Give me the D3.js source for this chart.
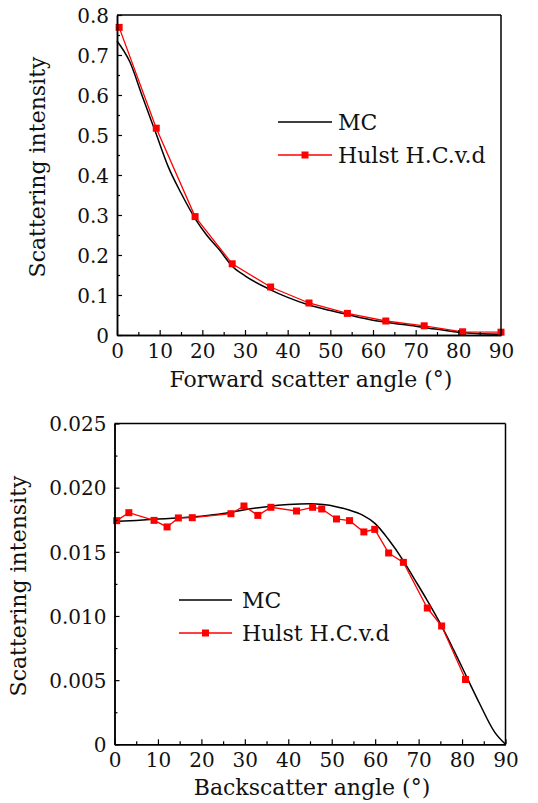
<!DOCTYPE html>
<html>
<head>
<meta charset="utf-8">
<script src="https://cdn.jsdelivr.net/npm/d3@7"></script>
<style>
  html, body { margin: 0; padding: 0; background: #fff; }
  svg { display: block; }
  text { font-family: "DejaVu Serif", serif; fill: #111; }
</style>
</head>
<body>
<svg id="chart" width="538" height="803"></svg>
<script>
// ---------------- DATA ----------------
// Top panel: forward scattering
const fwdMcAngle  = [0, 3, 6, 9, 12, 15, 18.5, 21, 24, 27, 30, 36, 40, 45, 50, 54, 60, 63, 70, 72, 80, 81, 85, 90];
const fwdMcValue  = [0.735, 0.683, 0.595, 0.508, 0.421, 0.355, 0.288, 0.25, 0.213, 0.172, 0.148, 0.113, 0.094, 0.075, 0.061, 0.051, 0.037, 0.032, 0.022, 0.019, 0.007, 0.006, 0.003, 0.002];
const fwdHulstAngle = [0.5, 9.2, 18.3, 27, 36, 45, 54, 63, 72, 81, 90];
const fwdHulstValue = [0.769, 0.517, 0.296, 0.178, 0.120, 0.080, 0.054, 0.035, 0.023, 0.008, 0.007];

// Bottom panel: backscattering
const backMcAngle = [0, 5, 10, 15, 20, 25, 30, 35, 40, 45, 48, 51, 54, 57, 60, 63, 66.5, 69, 72, 75, 78, 81, 84, 87.5, 90];
const backMcValue = [0.01738, 0.01745, 0.01755, 0.01765, 0.01778, 0.01798, 0.01828, 0.01852, 0.01868, 0.01874, 0.01868, 0.01852, 0.01826, 0.01788, 0.01720, 0.01600, 0.01430, 0.01290, 0.01120, 0.00940, 0.00740, 0.00530, 0.00320, 0.00095, 0.00000];
const backHulstAngle = [0.5, 3.3, 9.1, 12.1, 14.7, 17.9, 26.8, 29.8, 33.0, 36.0, 41.9, 45.6, 47.7, 51.1, 54.1, 57.4, 59.9, 63.1, 66.5, 72.0, 75.3, 80.8];
const backHulstValue = [0.01743, 0.01805, 0.01745, 0.01694, 0.01764, 0.01766, 0.01797, 0.01857, 0.01784, 0.01847, 0.01818, 0.01847, 0.01834, 0.01756, 0.01743, 0.01655, 0.01675, 0.01491, 0.01418, 0.01062, 0.00922, 0.00505];

// Tick definitions
const xMajorTicks = [0, 10, 20, 30, 40, 50, 60, 70, 80, 90];
const xMinorTicks = [5, 15, 25, 35, 45, 55, 65, 75, 85];
const fwdYMajor = [0, 0.1, 0.2, 0.3, 0.4, 0.5, 0.6, 0.7, 0.8];
const fwdYMinor = [0.05, 0.15, 0.25, 0.35, 0.45, 0.55, 0.65, 0.75];
const backYMajor = [0, 0.005, 0.010, 0.015, 0.020, 0.025];
const backYMinor = [0.0025, 0.0075, 0.0125, 0.0175, 0.0225];

const seriesNames = ["MC", "Hulst H.C.v.d"];
const yTitle = "Scattering intensity";
const fwdXTitle = "Forward scatter angle (°)";
const backXTitle = "Backscatter angle (°)";

// ---------------- DRAW ----------------
const svg = d3.select("#chart");

function panel(cfg) {
  const x = d3.scaleLinear().domain([0, 90]).range([cfg.left, cfg.right]);
  const y = d3.scaleLinear().domain(cfg.yDomain).range([cfg.bottom, cfg.top]);
  const g = svg.append("g");

  const mc = cfg.mcX.map((d, i) => [d, cfg.mcY[i]]);
  const hu = cfg.huX.map((d, i) => [d, cfg.huY[i]]);
  const lineMc = d3.line().x(d => x(d[0])).y(d => y(d[1])).curve(d3.curveMonotoneX);
  const lineHu = d3.line().x(d => x(d[0])).y(d => y(d[1]));

  g.append("path").attr("d", lineMc(mc)).attr("fill", "none")
    .attr("stroke", "#000").attr("stroke-width", 1.5);
  g.append("path").attr("d", lineHu(hu)).attr("fill", "none")
    .attr("stroke", "#ff0000").attr("stroke-width", 1.3);
  const ms = 7;
  g.selectAll("rect.m").data(hu).enter().append("rect")
    .attr("x", d => x(d[0]) - ms / 2).attr("y", d => y(d[1]) - ms / 2)
    .attr("width", ms).attr("height", ms).attr("fill", "#ff0000");

  // frame (top and right)
  g.append("line").attr("x1", cfg.left).attr("x2", cfg.right).attr("y1", cfg.top).attr("y2", cfg.top)
    .attr("stroke", "#000").attr("stroke-width", 1.5);
  g.append("line").attr("x1", cfg.right).attr("x2", cfg.right).attr("y1", cfg.top).attr("y2", cfg.bottom)
    .attr("stroke", "#000").attr("stroke-width", 1.5);

  // axes
  const xAxis = d3.axisBottom(x).tickValues(xMajorTicks).tickSizeInner(-5).tickSizeOuter(0)
    .tickPadding(8).tickFormat(d3.format("d"));
  const xAxisMinor = d3.axisBottom(x).tickValues(xMinorTicks).tickSizeInner(-3).tickSizeOuter(0).tickFormat("");
  const yAxis = d3.axisLeft(y).tickValues(cfg.yMajor).tickSizeInner(-5).tickSizeOuter(0)
    .tickPadding(8).tickFormat(d => d === 0 ? "0" : d3.format(cfg.yFmt)(d));
  const yAxisMinor = d3.axisLeft(y).tickValues(cfg.yMinor).tickSizeInner(-3).tickSizeOuter(0).tickFormat("");

  const styleAxis = sel => {
    sel.selectAll("path.domain").attr("stroke", "#000").attr("stroke-width", 1.5);
    sel.selectAll(".tick line").attr("stroke", "#000").attr("stroke-width", 1.2);
    sel.selectAll(".tick text").attr("font-family", "DejaVu Serif").attr("font-size", 20).attr("fill", "#111");
  };
  g.append("g").attr("transform", `translate(0,${cfg.bottom})`).call(xAxisMinor).call(styleAxis);
  g.append("g").attr("transform", `translate(0,${cfg.bottom})`).call(xAxis).call(styleAxis)
    .selectAll(".tick text").attr("dy", null).attr("y", 22.5).attr("dominant-baseline", "auto");
  g.append("g").attr("transform", `translate(${cfg.left},0)`).call(yAxisMinor).call(styleAxis);
  g.append("g").attr("transform", `translate(${cfg.left},0)`).call(yAxis).call(styleAxis)
    .selectAll(".tick text").attr("dy", "0.36em");

  // titles
  g.append("text").attr("x", (cfg.left + cfg.right) / 2 + 2).attr("y", cfg.xTitleY)
    .attr("text-anchor", "middle").attr("font-size", 22).text(cfg.xTitle);
  g.append("text").attr("transform", `translate(${cfg.yTitleX},${cfg.yTitleCy}) rotate(-90)`)
    .attr("text-anchor", "middle").attr("font-size", 22).text(yTitle);

  // legend
  const L = cfg.legend;
  g.append("line").attr("x1", L.x1).attr("x2", L.x2).attr("y1", L.y1).attr("y2", L.y1)
    .attr("stroke", "#000").attr("stroke-width", 1.5);
  g.append("text").attr("x", L.tx).attr("y", L.y1 + 8).attr("font-size", 22).text(seriesNames[0]);
  g.append("line").attr("x1", L.x1).attr("x2", L.x2).attr("y1", L.y2).attr("y2", L.y2)
    .attr("stroke", "#ff0000").attr("stroke-width", 1.3);
  g.append("rect").attr("x", (L.x1 + L.x2) / 2 - ms / 2).attr("y", L.y2 - ms / 2)
    .attr("width", ms).attr("height", ms).attr("fill", "#ff0000");
  g.append("text").attr("x", L.tx).attr("y", L.y2 + 8).attr("font-size", 22).text(seriesNames[1]);
}

panel({
  left: 117, right: 501, top: 15, bottom: 335,
  yDomain: [0, 0.8], yMajor: fwdYMajor, yMinor: fwdYMinor, yFmt: ".1f",
  mcX: fwdMcAngle, mcY: fwdMcValue, huX: fwdHulstAngle, huY: fwdHulstValue,
  xTitle: fwdXTitle, xTitleY: 387, yTitleX: 45, yTitleCy: 167,
  legend: { x1: 278, x2: 332, y1: 122, y2: 155, tx: 338 }
});

panel({
  left: 114.5, right: 505.5, top: 423.5, bottom: 744.3,
  yDomain: [0, 0.025], yMajor: backYMajor, yMinor: backYMinor, yFmt: ".3f",
  mcX: backMcAngle, mcY: backMcValue, huX: backHulstAngle, huY: backHulstValue,
  xTitle: backXTitle, xTitleY: 795, yTitleX: 26, yTitleCy: 586,
  legend: { x1: 179, x2: 232, y1: 600, y2: 633, tx: 242 }
});
</script>
</body>
</html>
